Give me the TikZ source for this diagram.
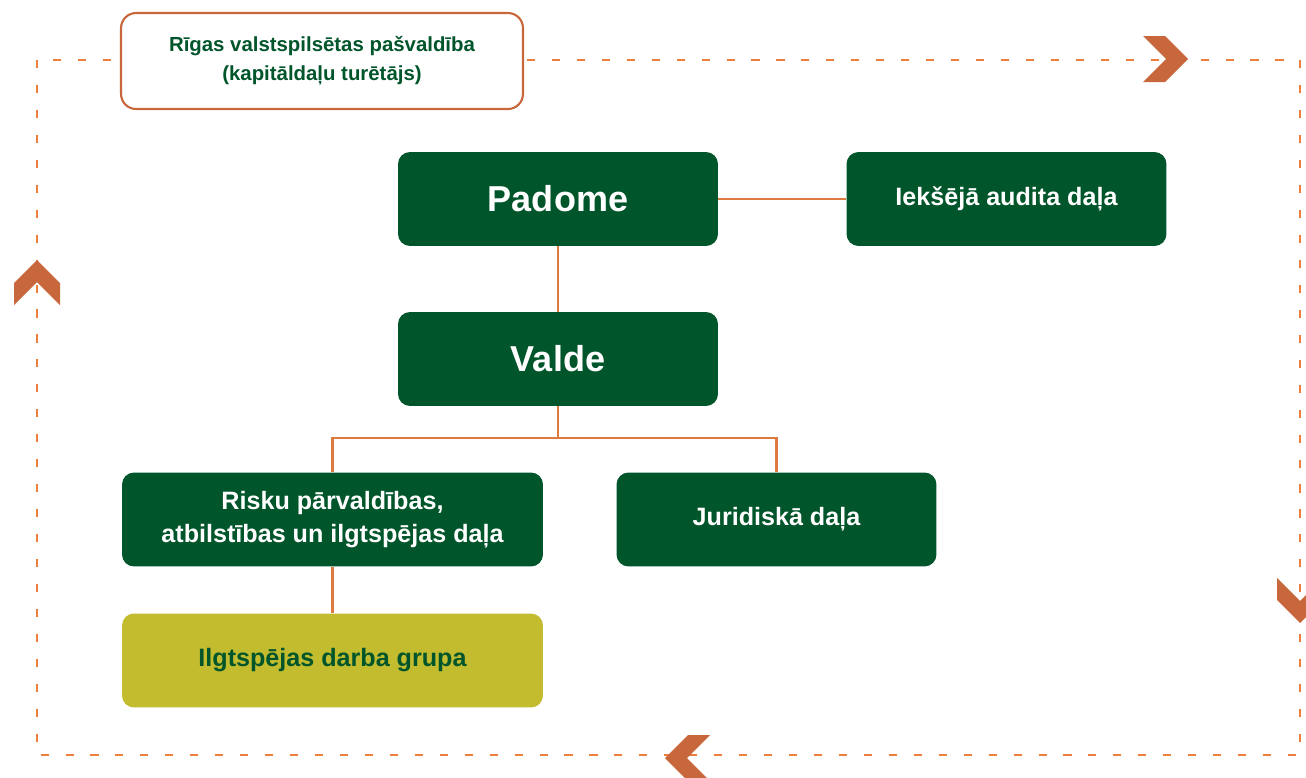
\documentclass[tikz,border=0pt]{standalone}
\usepackage{fontspec}
\setmainfont{Liberation Sans}
\definecolor{zals}{HTML}{00552B}
\definecolor{olivs}{HTML}{C3BC2F}
\definecolor{linija}{HTML}{DD7A42}
\definecolor{svitra}{HTML}{EC7F3C}
\definecolor{bulta}{HTML}{C8663C}

\begin{document}
\begin{tikzpicture}[x=0.02cm, y=-0.02cm,
  box/.style={fill=zals, rounded corners=0.24cm, minimum width=6.4cm,
    minimum height=1.88cm, text=white, align=center, inner sep=0pt,
    font=\bfseries\fontsize{14.3}{19}\selectfont},
  conn/.style={draw=linija, line width=1.2pt}]
  \useasboundingbox (0,0) rectangle (1306,778);

  % rāmis
  \draw[svitra, line width=1.2pt, dash pattern=on 4.6pt off 9.6pt] (37,60) rectangle (1300,755);

  % bultas uz rāmja
  \foreach \x/\y/\a in {1188/59/0, 37/260/90, 1300/623/-90, 665/758/180} {
    \fill[bulta, shift={(\x,\y)}, rotate=\a]
      (0,0) -- (-23,-23) -- (-45,-23) -- (-22,0) -- (-45,23) -- (-23,23) -- cycle;
  }

  % turētājs
  \node[draw=bulta, line width=1.2pt, fill=white, rounded corners=0.3cm,
    minimum width=8.04cm, minimum height=1.92cm, text=zals, align=center,
    font=\bfseries\fontsize{11.6}{16.5}\selectfont]
    (riga) at (322,61) {Rīgas valstspilsētas pašvaldība\\(kapitāldaļu turētājs)};

  % struktūra
  \node[box, font=\bfseries\fontsize{20.5}{25}\selectfont] (padome) at (558,199) {Padome};
  \node[box] (audits) at (1006.5,199) {Iekšējā audita daļa};
  \node[box, font=\bfseries\fontsize{20.5}{25}\selectfont] (valde) at (558,359) {Valde};
  \node[box, minimum width=8.42cm] (risku) at (332.5,519.5)
    {Risku pārvaldības,\\atbilstības un ilgtspējas daļa};
  \node[box] (jurid) at (776.5,519.5) {Juridiskā daļa};
  \node[box, minimum width=8.42cm, fill=olivs, text=zals] (grupa) at (332.5,660.5)
    {Ilgtspējas darba grupa};

  % savienojumi
  \draw[conn] (padome) -- (audits);
  \draw[conn] (padome) -- (valde);
  \draw[conn] (valde.south) -- ++(0,32) -| (risku.north);
  \draw[conn] (valde.south) -- ++(0,32) -| (jurid.north);
  \draw[conn] (risku) -- (grupa);
\end{tikzpicture}
\end{document}
